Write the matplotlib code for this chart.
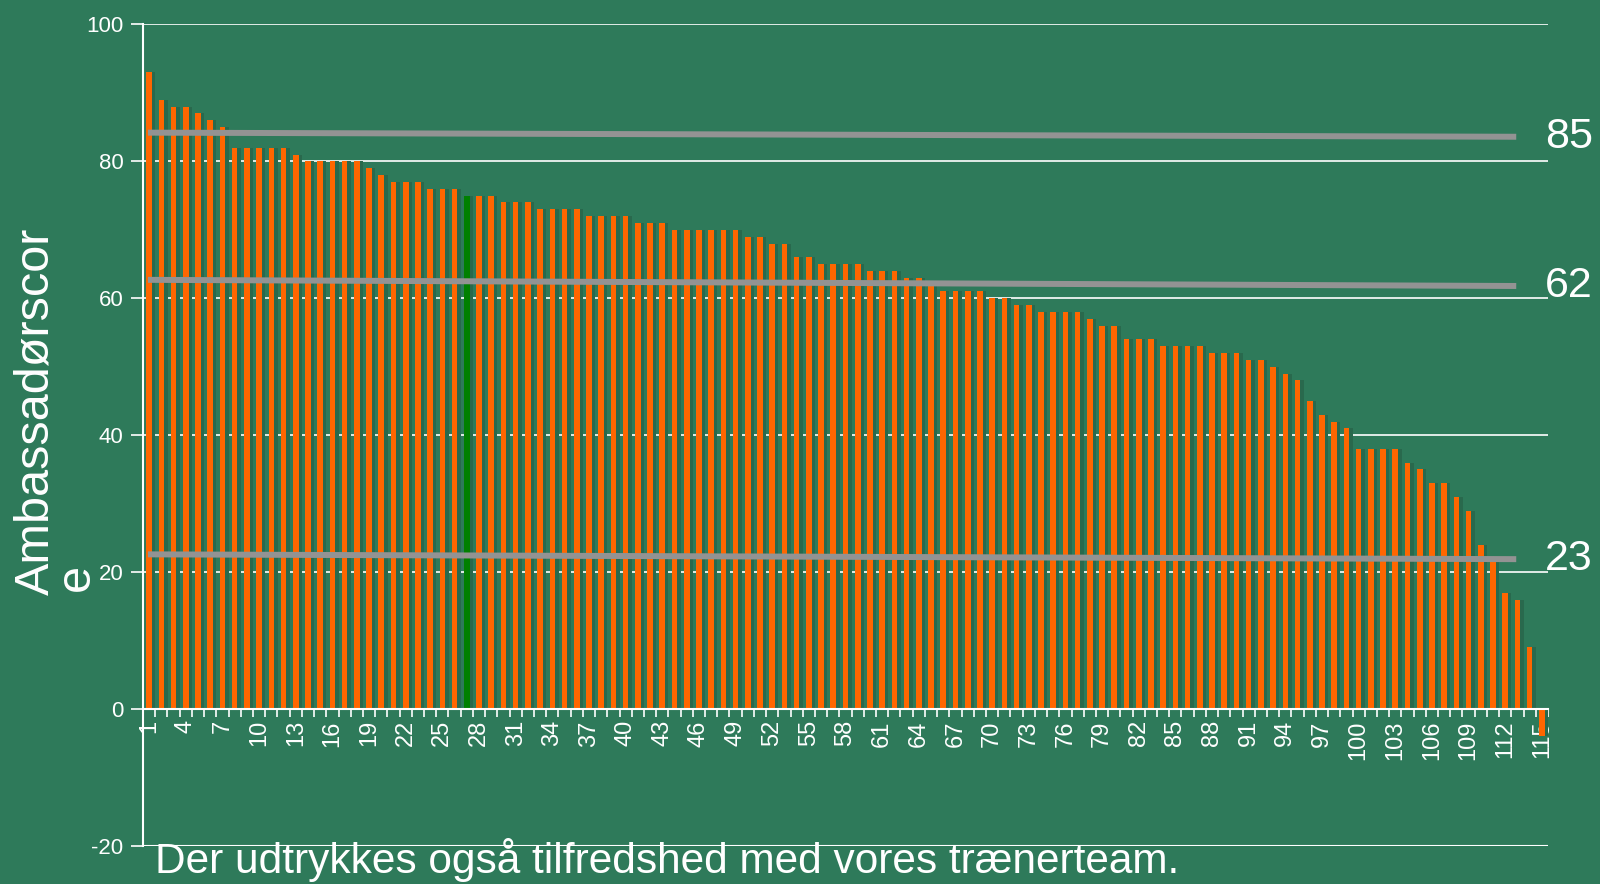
import matplotlib
matplotlib.use("Agg")
import matplotlib.pyplot as plt
import numpy as np

# respondent scores, sorted high -> low (respondent 27 highlighted)
scores = [93, 89, 88, 88, 87, 86, 85, 82, 82, 82,
          82, 82, 81, 80, 80, 80, 80, 80, 79, 78,
          77, 77, 77, 76, 76, 76, 75, 75, 75, 74,
          74, 74, 73, 73, 73, 73, 72, 72, 72, 72,
          71, 71, 71, 70, 70, 70, 70, 70, 70, 69,
          69, 68, 68, 66, 66, 65, 65, 65, 65, 64,
          64, 64, 63, 63, 62, 61, 61, 61, 61, 60,
          60, 59, 59, 58, 58, 58, 58, 57, 56, 56,
          54, 54, 54, 53, 53, 53, 53, 52, 52, 52,
          51, 51, 50, 49, 48, 45, 43, 42, 41, 38,
          38, 38, 38, 36, 35, 33, 33, 31, 29, 24,
          22, 17, 16, 9, -4]
highlight = 27

# reference lines: value at left end, value at right end, label
ref_start = [84.2, 62.7, 22.6]
ref_end = [83.6, 61.8, 21.9]
ref_labels = ["85", "62", "23"]
ref_x = [0.9, 112.9]

ylabel = "Ambassadørscor"
ylabel_tail = "e"
caption = "Der udtrykkes også tilfredshed med vores trænerteam."

bg = "#2e7a5a"
orange = "#ff6600"
plt.rcParams["font.family"] = ["Liberation Sans", "DejaVu Sans"]
plt.rcParams["axes.unicode_minus"] = False

x = np.arange(1, len(scores) + 1)
colors = [("#008000" if i == highlight else orange) for i in x]

fig = plt.figure(figsize=(16, 8.84), dpi=100, facecolor=bg)
ax = fig.add_axes([0.0894, 0.043, 0.8781, 0.9293])
ax.set_facecolor(bg)

# soft shadow to the right of each bar
ax.bar(x + 0.28, scores, width=0.46, color="#29694d", zorder=1.5)
ax.bar(x, scores, width=0.46, color=colors, zorder=2)

for s, e, lab in zip(ref_start, ref_end, ref_labels):
    ax.plot(ref_x, [s, e], color="#939393", lw=4.3, zorder=3, solid_capstyle="butt")
    ax.text(0.998, (e - (-20)) / 120, lab, transform=ax.transAxes, color="white",
            fontsize=31, ha="left", va="center", clip_on=False)

ax.set_xlim(0.5, len(scores) + 0.5)
ax.set_ylim(-20, 100)
ax.set_yticks(np.arange(-20, 101, 20))
ax.yaxis.grid(True, color="white", lw=1.2, zorder=0)
ax.set_axisbelow(True)

ax.set_xticks(x[::3])
ax.set_xticks(np.arange(0.5, len(scores) + 1, 1), minor=True)
ax.tick_params(axis="x", which="major", length=0, labelsize=17, labelcolor="white",
               labelrotation=90, pad=8)
ax.tick_params(axis="x", which="minor", length=6, color="white", width=1.2)
ax.tick_params(axis="y", length=9, color="white", width=1.2, labelsize=16,
               labelcolor="white", pad=5)

for side in ["top", "right"]:
    ax.spines[side].set_visible(False)
ax.spines["left"].set_color("white")
ax.spines["left"].set_linewidth(1.5)
ax.spines["bottom"].set_position(("data", 0))
ax.spines["bottom"].set_color("white")
ax.spines["bottom"].set_linewidth(1.5)
ax.axhline(-20, color="white", lw=1.5, zorder=0)

fig.text(0.0225, 0.535, ylabel, rotation=90, color="white", fontsize=35,
         ha="center", va="center")
fig.text(0.048, 0.347, ylabel_tail, rotation=90, color="white", fontsize=35,
         ha="center", va="center")
fig.text(0.097, 0.012, caption, color="white", fontsize=30.5, ha="left",
         va="baseline")

fig.savefig("out.png", dpi=100, facecolor=bg)
